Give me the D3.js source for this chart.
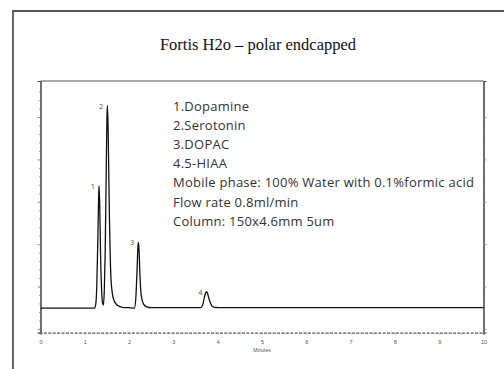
<!DOCTYPE html>
<html>
<head>
<meta charset="utf-8">
<script src="https://cdn.jsdelivr.net/npm/d3@7"></script>
<style>
  body { margin: 0; background: #fff; }
  svg { display: block; }
</style>
</head>
<body>
<div id="chart"></div>
<script>
// chromatogram trace (minutes, detector signal)
const times = [0, 1.22, 1.25, 1.27, 1.29, 1.31, 1.32, 1.335, 1.355, 1.38, 1.40, 1.42,
	1.44, 1.46, 1.48, 1.50, 1.51, 1.525, 1.54, 1.555, 1.57, 1.59, 1.62, 1.66, 1.72, 1.85, 2.0,
	2.12, 2.15, 2.18, 2.20, 2.21, 2.225, 2.24, 2.26, 2.29, 2.33, 2.40, 2.5,
	3.62, 3.66, 3.70, 3.73, 3.75, 3.77, 3.80, 3.84, 3.88, 3.95, 4.1, 10];
const signal = [4.9, 4.9, 6, 10, 19, 30, 33.8, 30, 18, 9, 6.2, 5.6,
	9, 18, 34, 50, 52.7, 48, 38, 27, 19, 12, 8.5, 6.7, 5.7, 5.1, 5.0,
	4.9, 7, 14, 19.5, 20.4, 18.5, 14, 9.5, 7, 5.8, 5.2, 5.0,
	5.0, 5.6, 7.5, 8.6, 8.8, 8.4, 7.2, 6.0, 5.3, 5.05, 5.0, 5.0];

const peakLabels = ['1', '2', '3', '4'];
const peakTimes = [1.32, 1.51, 2.21, 3.75];
const peakHeights = [33.8, 52.7, 20.4, 8.8];

const notes = [
	'1.Dopamine',
	'2.Serotonin',
	'3.DOPAC',
	'4.5-HIAA',
	'Mobile phase: 100% Water with 0.1%formic acid',
	'Flow rate 0.8ml/min',
	'Column: 150x4.6mm 5um'
];

const xTicks = [0, 1, 2, 3, 4, 5, 6, 7, 8, 9, 10];
const yTicks = [0, 10, 20, 30, 40, 50];

const width = 504;
const height = 369;

const svg = d3.select('#chart')
	.append('svg')
	.attr('width', width)
	.attr('height', height);

// outer frame (only left and top edges show)
svg.append('path')
	.attr('d', 'M13,369V11H504')
	.attr('fill', 'none')
	.attr('stroke', '#555')
	.attr('stroke-width', 1.8);

svg.append('text')
	.attr('x', 258)
	.attr('y', 50)
	.attr('text-anchor', 'middle')
	.attr('font-family', '"Liberation Serif", "Times New Roman", serif')
	.attr('font-size', '16.5px')
	.attr('fill', '#111')
	.text('Fortis H2o \u2013 polar endcapped');

const x = d3.scaleLinear().domain([0, 10]).range([40.5, 483.5]);
const y = d3.scaleLinear().domain([-0.9, 58.5]).range([332.7, 81]);

// top edge of plot box
svg.append('line')
	.attr('x1', x(0)).attr('x2', x(10))
	.attr('y1', y(58.5)).attr('y2', y(58.5))
	.attr('stroke', '#555')
	.attr('stroke-width', 1.2);

// left / right axes, ticks pointing out
const leftMinor = d3.axisLeft(y).tickValues(d3.range(0, 58, 2)).tickSize(1.5).tickFormat('');
const leftMajor = d3.axisLeft(y).tickValues(yTicks).tickSize(3).tickFormat('');
const rightMinor = d3.axisRight(y).tickValues(d3.range(0, 58, 2)).tickSize(1.5).tickFormat('');
const rightMajor = d3.axisRight(y).tickValues(yTicks).tickSize(3).tickFormat('');

[[leftMinor, x(0)], [leftMajor, x(0)], [rightMinor, x(10)], [rightMajor, x(10)]].forEach(([ax, px]) => {
	const g = svg.append('g')
		.attr('transform', `translate(${px},0)`)
		.call(ax);
	g.select('.domain').attr('stroke', '#555').attr('stroke-width', 1.2);
	g.selectAll('.tick line').attr('stroke', '#888').attr('stroke-width', 0.8);
});

// bottom axis: dashed look, half-minute ticks
const xAxisMinor = d3.axisBottom(x).tickValues(d3.range(0, 10.01, 0.5)).tickSize(2).tickFormat('');
const gxm = svg.append('g')
	.attr('transform', `translate(0,${y(-0.9)})`)
	.call(xAxisMinor);
gxm.select('.domain')
	.attr('stroke', '#555')
	.attr('stroke-width', 1.3)
	.attr('stroke-dasharray', '3,1.4');
gxm.selectAll('.tick line').attr('stroke', '#999').attr('stroke-width', 0.7);

const xAxis = d3.axisBottom(x).tickValues(xTicks).tickSize(0).tickPadding(7);
const gx = svg.append('g')
	.attr('transform', `translate(0,${y(-0.9)})`)
	.call(xAxis);
gx.select('.domain').remove();
gx.selectAll('.tick text')
	.attr('font-family', 'Arial, "Liberation Sans", sans-serif')
	.attr('font-size', '5.5px')
	.attr('fill', '#555');

svg.append('text')
	.attr('x', 262)
	.attr('y', 352)
	.attr('text-anchor', 'middle')
	.attr('font-family', 'Arial, "Liberation Sans", sans-serif')
	.attr('font-size', '5px')
	.attr('fill', '#555')
	.text('Minutes');

// trace
const line = d3.line()
	.x(d => x(d[0]))
	.y(d => y(d[1]))
	.curve(d3.curveMonotoneX);

svg.append('path')
	.datum(times.map((t, i) => [t, signal[i]]))
	.attr('fill', 'none')
	.attr('stroke', '#111')
	.attr('stroke-width', 1.3)
	.attr('d', line);

// peak numbers
svg.selectAll('.peak')
	.data(peakLabels)
	.enter().append('text')
	.attr('class', 'peak')
	.attr('x', (d, i) => x(peakTimes[i]) - 4)
	.attr('y', (d, i) => y(peakHeights[i]) + 3)
	.attr('text-anchor', 'end')
	.attr('font-family', '"Open Sans", sans-serif')
	.attr('font-size', '7.5px')
	.attr('fill', '#555')
	.text(d => d);

// annotation block
svg.selectAll('.note')
	.data(notes)
	.enter().append('text')
	.attr('class', 'note')
	.attr('x', 173)
	.attr('y', (d, i) => 111 + i * 19.1)
	.attr('font-family', '"Open Sans", sans-serif')
	.attr('font-size', '13px')
	.attr('letter-spacing', '0.25px')
	.attr('fill', '#333')
	.text(d => d);
</script>
</body>
</html>
